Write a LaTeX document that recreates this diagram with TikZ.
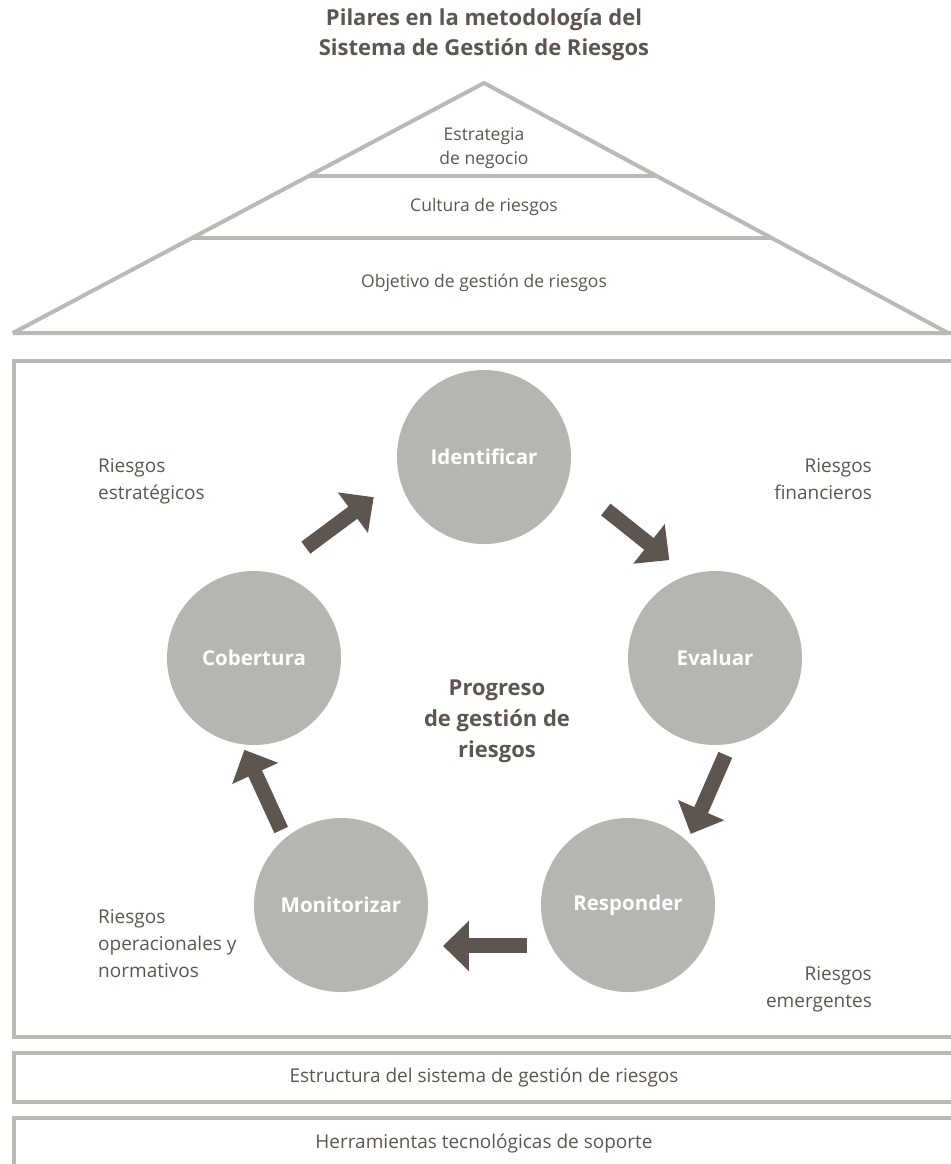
\documentclass[tikz,border=0pt]{standalone}
\usepackage{fontspec}
\setmainfont{Open Sans}
\usetikzlibrary{arrows.meta}
\definecolor{linegray}{HTML}{B9BAB6}
\definecolor{circgray}{HTML}{B5B6B2}
\definecolor{arrowbrown}{HTML}{5E5550}
\definecolor{txtbrown}{HTML}{5E5550}
\begin{document}
\begin{tikzpicture}[x=1pt,y=-1pt,
  gline/.style={draw=linegray,line width=4pt},
  circ/.style={circle,fill=circgray,minimum size=174pt,inner sep=0pt,text=white,font=\fontsize{20.5}{24}\selectfont\bfseries},
  arr/.style={draw=arrowbrown,line width=15pt,-{Triangle[length=26pt,width=49pt]}},
  lbl/.style={text=txtbrown,font=\fontsize{17.5}{24}\selectfont,inner sep=0pt},
  rlbl/.style={text=txtbrown,font=\fontsize{19}{27}\selectfont,inner sep=0pt},
  ttl/.style={text=txtbrown,font=\fontsize{22}{30}\selectfont\bfseries,align=center,inner sep=0pt}]
\useasboundingbox (0,0) rectangle (950,1164);
% title
\node[ttl] (title) at (484,35) {Pilares en la metodología del\\Sistema de Gestión de Riesgos};
% roof
\draw[gline,line join=bevel] (13,333) -- (484,83) -- (948,333) -- (960,333) -- cycle;
\draw[gline] (309,176) -- (656,176);
\draw[gline] (192,238) -- (771,238);
\node[lbl,align=center] (estr) at (484,148) {Estrategia\\de negocio};
\node[lbl] (cult) at (484,207) {Cultura de riesgos};
\node[lbl] (obj) at (484,283) {Objetivo de gestión de riesgos};
% main box
\draw[gline] (960,361) -- (14,361) -- (14,1037) -- (960,1037);
\draw[gline] (960,1053) -- (14,1053) -- (14,1102) -- (960,1102);
\draw[gline] (960,1118) -- (14,1118) -- (14,1180);
\node[rlbl] (estruct) at (484,1077) {Estructura del sistema de gestión de riesgos};
\node[rlbl] (herr) at (484,1143) {Herramientas tecnológicas de soporte};
% circles
\node[circ] (ide) at (484,457) {Identificar};
\node[circ] (eva) at (715,658) {Evaluar};
\node[circ] (res) at (628,905) {Responder};
\node[circ] (mon) at (341,905) {Monitorizar};
\node[circ] (cob) at (254,658) {Cobertura};
\node[text=txtbrown,font=\fontsize{22}{31}\selectfont\bfseries,align=center] (prog) at (497,721) {Progreso\\de gestión de\\riesgos};
% arrows
\draw[arr,shorten <=42pt,shorten >=32pt] (cob.78) -- (ide.194);
\draw[arr,shorten <=48pt,shorten >=24pt] (ide.345) -- (eva.108);
\draw[arr,shorten <=12pt,shorten >=8pt] (eva.280) -- (res.47);
\draw[arr,shorten <=24pt,shorten >=25pt] (res.208) -- (mon.332);
\draw[arr,shorten <=9pt,shorten >=6pt] (mon.130) -- (cob.262);
% risk labels
\node[rlbl,align=left,anchor=north west] (rest) at (98,458) {Riesgos\\estratégicos};
\node[rlbl,align=right,anchor=north east] (rfin) at (872,458) {Riesgos\\financieros};
\node[rlbl,align=left,anchor=north west] (rop) at (98,909) {Riesgos\\operacionales y\\normativos};
\node[rlbl,align=right,anchor=north east] (remer) at (872,966) {Riesgos\\emergentes};
\end{tikzpicture}
\end{document}
